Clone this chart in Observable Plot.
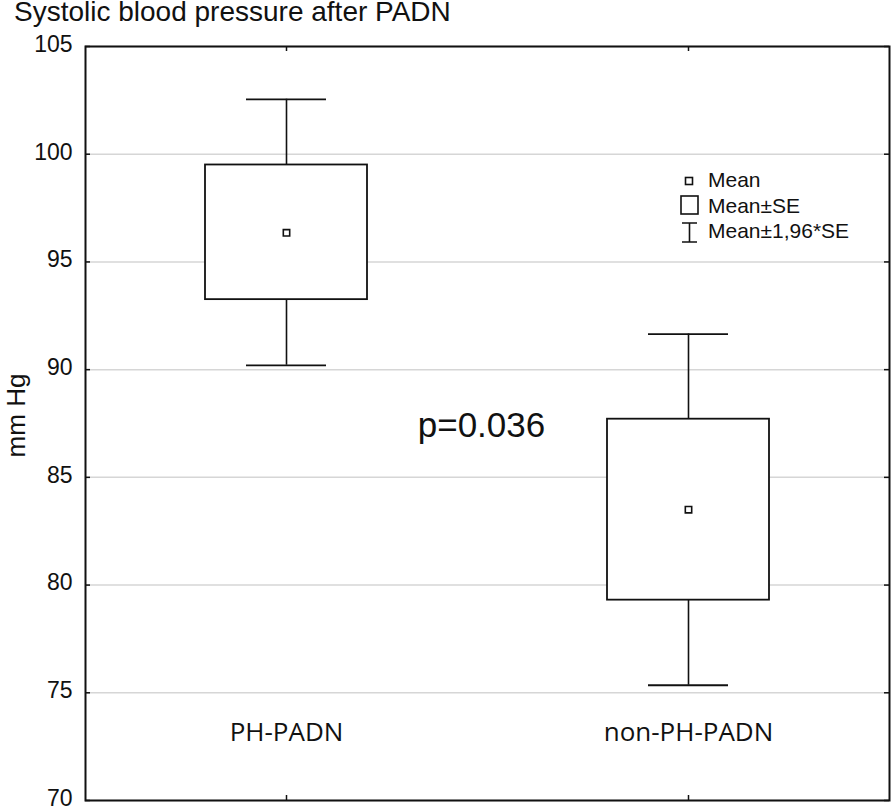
<!DOCTYPE html>
<html><head><meta charset="utf-8">
<script src="https://cdn.jsdelivr.net/npm/d3@7"></script>
<script src="https://cdn.jsdelivr.net/npm/@observablehq/plot@0.6"></script>
<style>
body{margin:0;background:#fff;}
#wrap{position:relative;width:893px;height:809px;overflow:hidden;background:#fff;}
#chart{position:absolute;left:0;top:0;}
#title{position:absolute;left:14px;top:-4px;font-family:"Liberation Sans",Arial,sans-serif;font-size:28px;color:#111;white-space:nowrap;}
#legend{position:absolute;left:672px;top:166px;}
</style></head><body><div id="wrap"><div id="chart"></div><div id="title">Systolic blood pressure after PADN</div><svg id="legend"></svg></div>
<script>
const groups = ["PH-PADN", "non-PH-PADN"];
const means = [96.35, 83.5];
const seLow = [93.25, 79.3];
const seHigh = [99.5, 87.7];
const ciLow = [90.2, 75.35];
const ciHigh = [102.55, 91.65];
const yTicks = [70, 75, 80, 85, 90, 95, 100, 105];
const pLabel = "p=0.036";
const yLabel = "mm Hg";
const legendItems = ["Mean", "Mean±SE", "Mean±1,96*SE"];

const data = groups.map((g, i) => ({g, mean: means[i], lo: seLow[i], hi: seHigh[i], cl: ciLow[i], ch: ciHigh[i]}));
const ink = "#111";
const arial = '"Liberation Sans", Arial, sans-serif';

const plot = Plot.plot({
  width: 893, height: 809,
  marginLeft: 85, marginRight: 4, marginTop: 46, marginBottom: 9,
  style: {fontFamily: arial, background: "transparent", overflow: "visible"},
  x: {type: "band", domain: groups, padding: 0, axis: null},
  y: {domain: [70, 105], axis: null},
  marks: [
    Plot.gridY(yTicks, {stroke: "#d6d6d6", strokeOpacity: 1, strokeWidth: 1.5}),
    Plot.ruleX(data, {x: "g", y1: "cl", y2: "ch", stroke: ink, strokeWidth: 1.6}),
    Plot.tickY(data, {x: "g", y: "cl", insetLeft: 161, insetRight: 161, stroke: ink, strokeWidth: 1.8}),
    Plot.tickY(data, {x: "g", y: "ch", insetLeft: 161, insetRight: 161, stroke: ink, strokeWidth: 1.8}),
    Plot.rect(data, {x: "g", y1: "lo", y2: "hi", insetLeft: 120, insetRight: 120, fill: "#fff", stroke: ink, strokeWidth: 1.8}),
    Plot.dot(data, {x: "g", y: "mean", symbol: "square", r: 3.6, fill: "#fff", stroke: ink, strokeWidth: 1.6}),
    // inner ticks on all four sides
    Plot.tickY(yTicks, {y: d => d, x: () => groups[0], insetRight: 397, stroke: ink, strokeWidth: 1.5}),
    Plot.tickY(yTicks, {y: d => d, x: () => groups[1], insetLeft: 397, stroke: ink, strokeWidth: 1.5}),
    Plot.tickX(groups, {x: d => d, insetBottom: 749, stroke: ink, strokeWidth: 1.5}),
    Plot.tickX(groups, {x: d => d, insetTop: 749, stroke: ink, strokeWidth: 1.5}),
    Plot.frame({stroke: ink, strokeWidth: 2}),
    Plot.text(yTicks, {y: d => d, text: d => String(d), frameAnchor: "left", dx: -13, textAnchor: "end", fontSize: 23, fill: ink, dy: -2}),
    Plot.text([yLabel], {frameAnchor: "left", dx: -69, dy: -8, rotate: -90, fontSize: 26, fill: ink, textAnchor: "middle"}),
    Plot.text(groups, {x: d => d, frameAnchor: "bottom", dy: -60, fontSize: 26, fontFamily: '"Open Sans", sans-serif', fill: ink}),
    Plot.text([pLabel], {frameAnchor: "middle", dx: -6, dy: 2, fontSize: 35, fill: ink})
  ]
});
document.getElementById("chart").appendChild(plot);

// legend
const lg = d3.select("#legend").attr("width", 210).attr("height", 90);
const rowH = 25.5;
legendItems.forEach((t, i) => {
  lg.append("text").attr("x", 36).attr("y", 21 + i * rowH).attr("font-family", arial).attr("font-size", 21).attr("fill", ink).text(t);
});
lg.append("rect").attr("x", 13.5).attr("y", 11.5).attr("width", 7).attr("height", 7).attr("fill", "#fff").attr("stroke", ink).attr("stroke-width", 1.6);
lg.append("rect").attr("x", 9).attr("y", 30).attr("width", 17).attr("height", 18).attr("fill", "#fff").attr("stroke", ink).attr("stroke-width", 1.6);
lg.append("path").attr("d", "M10,57H25M17.5,57V76M10,76H25").attr("fill", "none").attr("stroke", ink).attr("stroke-width", 1.6);
</script></body></html>
